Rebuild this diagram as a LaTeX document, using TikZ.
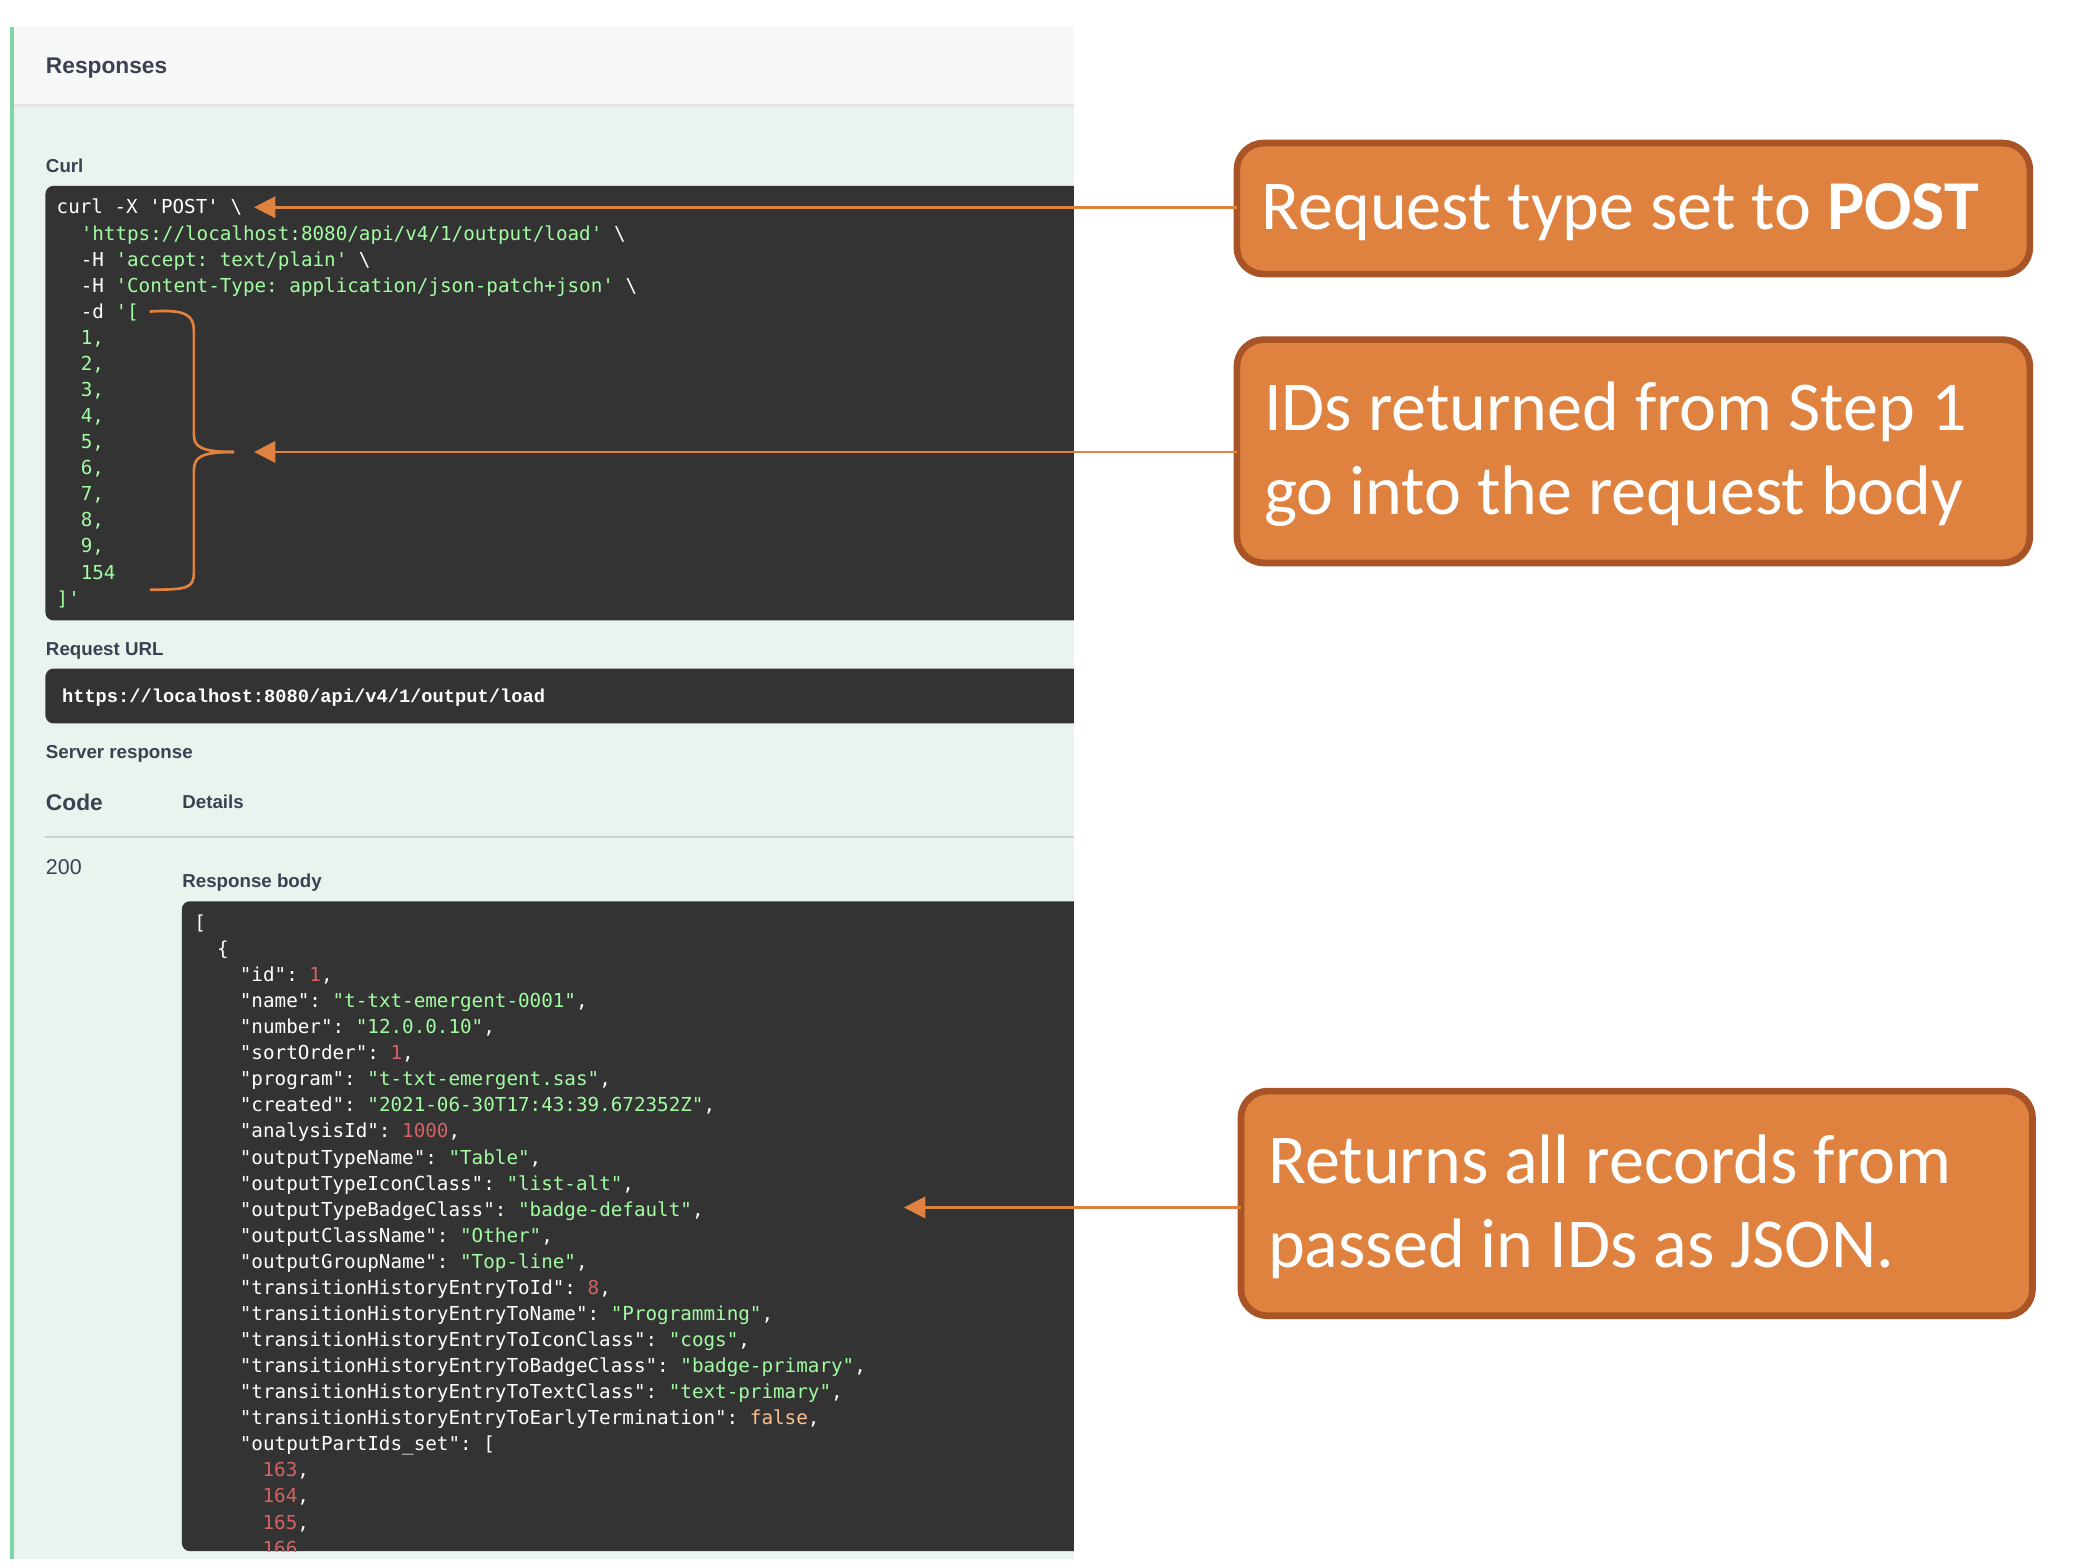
\documentclass[tikz,border=0pt]{standalone}
\usepackage{fontspec}
\setmainfont{Liberation Sans}
\setmonofont{DejaVu Sans Mono}
\newfontfamily\calib{Carlito}
\newfontfamily\urlfont{Liberation Mono}
\usetikzlibrary{arrows.meta}
\definecolor{codebg}{HTML}{333333}
\definecolor{sgreen}{HTML}{A2FCA2}
\definecolor{nred}{HTML}{D36363}
\definecolor{bfalse}{HTML}{FCC28C}
\definecolor{panelgreen}{HTML}{EBF3EE}
\definecolor{panelhead}{HTML}{F7F8F8}
\definecolor{edgegreen}{HTML}{7FD6A8}
\definecolor{anno}{HTML}{E0823F}
\definecolor{annoedge}{HTML}{A95426}
\definecolor{lbl}{HTML}{3B4151}
\newcommand{\Sg}[1]{{\color{sgreen}#1}}
\newcommand{\Nr}[1]{{\color{nred}#1}}
\newcommand{\Bf}[1]{{\color{bfalse}#1}}
\tikzset{
  codeln/.style={anchor=base west,inner sep=0pt,text=white,font=\ttfamily\fontsize{7.2}{8}\selectfont},
  lab/.style={anchor=base west,inner sep=0pt,text=lbl,font=\bfseries\fontsize{7}{8}\selectfont},
  annobox/.style={draw=annoedge,line width=2.5pt,fill=anno,rounded corners=10pt},
  annotext/.style={anchor=base west,inner sep=0pt,text=white,font=\calib\fontsize{26.2}{30}\selectfont},
  arr/.style={draw=anno,line width=1pt,-{Triangle[length=8pt,width=8pt]}}
}
\begin{document}
\begin{tikzpicture}[x=0.5pt,y=-0.5pt]
\useasboundingbox (0,0) rectangle (1563,1172);
\fill[white] (0,0) rectangle (1563,1172);
% panel
\fill[panelgreen] (8,20) rectangle (803,1166);
\fill[panelhead] (8,20) rectangle (803,78);
\draw[black!10,line width=1pt] (10,79) -- (803,79);
\draw[edgegreen,line width=1.2pt] (9,20) -- (9,1166);
\node[lab,font=\bfseries\fontsize{8.5}{10}\selectfont] (resp) at (34,55) {Responses};
\node[lab] (curl) at (34,129) {Curl};
% curl box
\fill[codebg,rounded corners=3pt] (34,139) rectangle (830,464);
\fill[white] (803,130) rectangle (830,470);
\node[codeln] (c1) at (42,160) {curl -X 'POST' \textbackslash};
\node[codeln] (c2) at (60,179.5) {\Sg{'https://localhost:8080/api/v4/1/output/load'} \textbackslash};
\node[codeln] (c3) at (60,199) {-H \Sg{'accept: text/plain'} \textbackslash};
\node[codeln] (c4) at (60,218.5) {-H \Sg{'Content-Type: application/json-patch+json'} \textbackslash};
\node[codeln] (c5) at (60,238) {-d \Sg{'[}};
\node[codeln] (n1) at (60,257.5) {\Sg{1,}};
\node[codeln] (n2) at (60,277) {\Sg{2,}};
\node[codeln] (n3) at (60,296.5) {\Sg{3,}};
\node[codeln] (n4) at (60,316) {\Sg{4,}};
\node[codeln] (n5) at (60,335.5) {\Sg{5,}};
\node[codeln] (n6) at (60,355) {\Sg{6,}};
\node[codeln] (n7) at (60,374.5) {\Sg{7,}};
\node[codeln] (n8) at (60,394) {\Sg{8,}};
\node[codeln] (n9) at (60,413.5) {\Sg{9,}};
\node[codeln] (n10) at (60,433) {\Sg{154}};
\node[codeln] (c6) at (42,452.5) {\Sg{]'}};
% brace
\draw[anno,line width=1pt] (112,233) .. controls (140,231) and (145,236) .. (145,248) -- (145,325) .. controls (145,334) and (150,338) .. (175,338);
\draw[anno,line width=1pt] (175,338) .. controls (150,338) and (145,342) .. (145,352) -- (145,428) .. controls (145,440) and (140,441) .. (112,441);
\coordinate (bracetip) at (190,338);
\coordinate (posttip) at (190,155);
% request url
\node[lab] (rurl) at (34,490) {Request URL};
\fill[codebg,rounded corners=3pt] (34,500) rectangle (830,541);
\fill[white] (803,495) rectangle (830,545);
\node[codeln,font=\urlfont\bfseries\fontsize{7}{8}\selectfont] (url) at (46,525) {https://localhost:8080/api/v4/1/output/load};
\node[lab] (srv) at (34,567) {Server response};
\node[lab,font=\bfseries\fontsize{8.5}{10}\selectfont] (code) at (34,606) {Code};
\node[lab] (det) at (136,605) {Details};
\draw[black!18,line width=1pt] (34,626) -- (803,626);
\node[lab,font=\fontsize{8}{10}\selectfont] (c200) at (34,654) {200};
\node[lab] (rb) at (136,664) {Response body};
% response box
\fill[codebg,rounded corners=3pt] (136,674) rectangle (830,1160);
\fill[white] (803,665) rectangle (830,1172);
\begin{scope}
\clip (136,674) rectangle (803,1160);
\node[codeln] (j0) at (145,695) {[};
\node[codeln] (j1) at (162,714.5) {\{};
\node[codeln] (k1) at (179,734) {"id": \Nr{1},};
\node[codeln] (k2) at (179,753.5) {"name": \Sg{"t-txt-emergent-0001"},};
\node[codeln] (k3) at (179,773) {"number": \Sg{"12.0.0.10"},};
\node[codeln] (k4) at (179,792.5) {"sortOrder": \Nr{1},};
\node[codeln] (k5) at (179,812) {"program": \Sg{"t-txt-emergent.sas"},};
\node[codeln] (k6) at (179,831.5) {"created": \Sg{"2021-06-30T17:43:39.672352Z"},};
\node[codeln] (k7) at (179,851) {"analysisId": \Nr{1000},};
\node[codeln] (k8) at (179,870.5) {"outputTypeName": \Sg{"Table"},};
\node[codeln] (k9) at (179,890) {"outputTypeIconClass": \Sg{"list-alt"},};
\node[codeln] (k10) at (179,909.5) {"outputTypeBadgeClass": \Sg{"badge-default"},};
\node[codeln] (k11) at (179,929) {"outputClassName": \Sg{"Other"},};
\node[codeln] (k12) at (179,948.5) {"outputGroupName": \Sg{"Top-line"},};
\node[codeln] (k13) at (179,968) {"transitionHistoryEntryToId": \Nr{8},};
\node[codeln] (k14) at (179,987.5) {"transitionHistoryEntryToName": \Sg{"Programming"},};
\node[codeln] (k15) at (179,1007) {"transitionHistoryEntryToIconClass": \Sg{"cogs"},};
\node[codeln] (k16) at (179,1026.5) {"transitionHistoryEntryToBadgeClass": \Sg{"badge-primary"},};
\node[codeln] (k17) at (179,1046) {"transitionHistoryEntryToTextClass": \Sg{"text-primary"},};
\node[codeln] (k18) at (179,1065.5) {"transitionHistoryEntryToEarlyTermination": \Bf{false},};
\node[codeln] (k19) at (179,1085) {"outputPartIds\_set": [};
\node[codeln] (p1) at (196,1104.5) {\Nr{163},};
\node[codeln] (p2) at (196,1124) {\Nr{164},};
\node[codeln] (p3) at (196,1143.5) {\Nr{165},};
\node[codeln] (p4) at (196,1163) {\Nr{166}};
\end{scope}
\coordinate (jsontip) at (676,903);
% annotations
\draw[annobox] (925,107) rectangle (1518,205);
\node[annotext] (a1) at (943,172) {Request type set to \textbf{POST}};
\coordinate (a1w) at (925,155);
\draw[annobox] (925,254) rectangle (1518,421);
\node[annotext] (a2a) at (945,322) {IDs returned from Step 1};
\node[annotext] (a2b) at (945,385) {go into the request body};
\coordinate (a2w) at (925,338);
\draw[annobox] (928,816) rectangle (1520,984);
\node[annotext] (a3a) at (948,885) {Returns all records from};
\node[annotext] (a3b) at (948,948) {passed in IDs as JSON.};
\coordinate (a3w) at (928,903);
\draw[arr] (a1w) -- (posttip);
\draw[arr] (a2w) -- (bracetip);
\draw[arr] (a3w) -- (jsontip);
\end{tikzpicture}
\end{document}
